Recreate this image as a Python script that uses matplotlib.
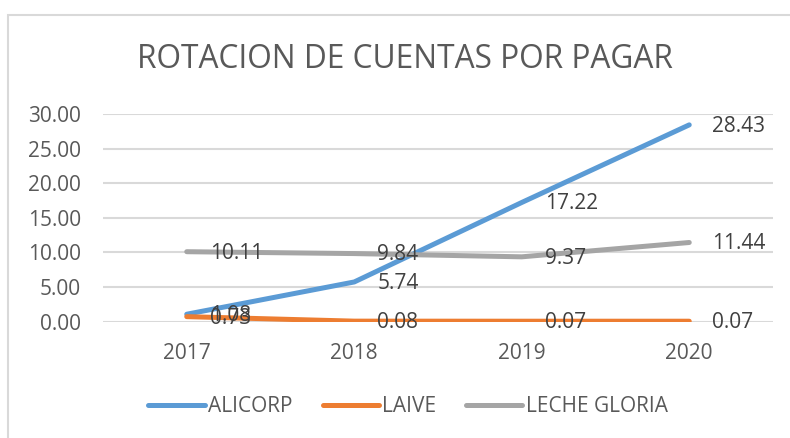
import matplotlib
matplotlib.use("Agg")
import matplotlib.pyplot as plt
from matplotlib.patches import Rectangle

years = ["2017", "2018", "2019", "2020"]
alicorp = [1.08, 5.74, 17.22, 28.43]
laive = [0.73, 0.08, 0.07, 0.07]
leche_gloria = [10.11, 9.84, 9.37, 11.44]

series = [
    ("ALICORP", alicorp, "#5B9BD5"),
    ("LAIVE", laive, "#ED7D31"),
    ("LECHE GLORIA", leche_gloria, "#A5A5A5"),
]

plt.rcParams['font.family'] = ['Open Sans', 'DejaVu Sans']
text_color = "#595959"

fig = plt.figure(figsize=(7.9, 4.38), dpi=100)
ax = fig.add_axes([103 / 790, 116.3 / 438, 670 / 790, 207.7 / 438])

# chart border
fig.add_artist(Rectangle((8 / 790, -0.2), 1.2, 1.2 - 15 / 438 + 0.0,
                         transform=fig.transFigure, fill=False,
                         edgecolor="#D9D9D9", linewidth=1.5))

x = list(range(len(years)))
for name, vals, color in series:
    ax.plot(x, vals, color=color, linewidth=3.6, solid_capstyle="round", label=name, zorder=3)
    for xi, v in zip(x, vals):
        ax.annotate(f"{v:.2f}", (xi, v), xytext=(16.5, -1), textcoords="offset points",
                    ha="left", va="center", fontsize=15, color="#404040", zorder=4)

ax.set_xlim(-0.5, 3.5)
ax.set_ylim(0, 30)
ax.set_yticks(range(0, 31, 5))
ax.set_yticklabels([f"{v:.2f}" for v in range(0, 31, 5)])
ax.set_xticks(x)
ax.set_xticklabels(years)
ax.tick_params(axis="y", length=0, pad=16, labelsize=15, labelcolor=text_color)
ax.tick_params(axis="x", length=0, pad=15, labelsize=15, labelcolor=text_color)
ax.grid(axis="y", color="#D9D9D9", linewidth=1.5)
ax.set_axisbelow(True)
for s in ax.spines.values():
    s.set_visible(False)

fig.text(405 / 790, 1 - 59.5 / 438, "ROTACION DE CUENTAS POR PAGAR",
         ha="center", va="center", fontsize=22.8, color=text_color)

fig.legend(loc="center", bbox_to_anchor=(408 / 790, 1 - 407 / 438), ncol=3,
           frameon=False, fontsize=15, handlelength=2.7, handletextpad=0.15,
           columnspacing=1.45, labelcolor=text_color)

fig.savefig("out.png", dpi=100)
